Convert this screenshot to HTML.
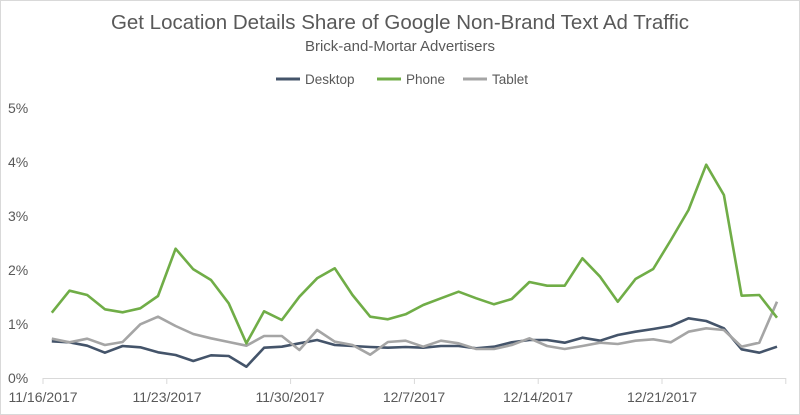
<!DOCTYPE html>
<html><head><meta charset="utf-8"><style>
html,body{margin:0;padding:0;background:#fff;}
svg{display:block;font-family:"Liberation Sans",sans-serif;}
</style></head><body>
<svg id="c" width="800" height="415" viewBox="0 0 800 415">
<rect x="0.5" y="0.5" width="799" height="414" fill="#fff" stroke="#d9d9d9"/>
<text x="400" y="29" text-anchor="middle" font-size="20.5" fill="#595959">Get Location Details Share of Google Non-Brand Text Ad Traffic</text>
<text x="400" y="51" text-anchor="middle" font-size="15" fill="#595959">Brick-and-Mortar Advertisers</text>
<g font-size="13.5" fill="#595959">
<line x1="276" y1="79" x2="300" y2="79" stroke="#44546a" stroke-width="3"/><text x="305" y="84">Desktop</text>
<line x1="377" y1="79" x2="401" y2="79" stroke="#70ad47" stroke-width="3"/><text x="406" y="84">Phone</text>
<line x1="463" y1="79" x2="487" y2="79" stroke="#a5a5a5" stroke-width="3"/><text x="492" y="84">Tablet</text>
</g>
<g font-size="14" fill="#595959" text-anchor="start">
<text x="8" y="113">5%</text><text x="8" y="167">4%</text><text x="8" y="221">3%</text>
<text x="8" y="275">2%</text><text x="8" y="329">1%</text><text x="8" y="383">0%</text>
</g>
<g id="ax" stroke="#d9d9d9" stroke-width="1"></g>
<g font-size="14" fill="#595959" text-anchor="middle">
<text x="43" y="402">11/16/2017</text><text x="167" y="402">11/23/2017</text><text x="290" y="402">11/30/2017</text>
<text x="414" y="402">12/7/2017</text><text x="538" y="402">12/14/2017</text><text x="662" y="402">12/21/2017</text>
</g>
<g id="s" fill="none" stroke-width="2.6" stroke-linejoin="round"></g>
</svg>
<script>
var ns="http://www.w3.org/2000/svg";
var ax=document.getElementById('ax');
function ln(x1,y1,x2,y2){var l=document.createElementNS(ns,'line');l.setAttribute('x1',x1);l.setAttribute('y1',y1);l.setAttribute('x2',x2);l.setAttribute('y2',y2);ax.appendChild(l);}
ln(43,378.5,786,378.5);
for(var i=0;i<7;i++){var x=43+i*123.8;ln(x,378,x,384);}
var g=[312.7,290.7,295,309.3,312.3,308.3,296,248.7,269.3,280,303.3,343.3,311.3,320,296.7,278.3,268.3,295,316.7,319.3,314.3];
var t=[338.7,342.3,338.7,345,342,324.3,316.7,326,334,338.3,342,345.7,336,336,350,330,341.7,345,354.7,342,340.7];
var d=[341.3,342.3,345.7,352.7,346,347.3,352.3,355,361,355.3,356,366.7,347.7,346.7,343.3,340,345,346,347,347.7,347];
var g2=[465,445,425,445,463,447,396,407,407,325,380,455,387,357,270,180,44,135,437,435,503];
var t2=[590,572,580,597,597,585,565,588,597,588,578,582,572,568,577,545,535,540,590,578,455];
var d2=[593,588,588,595,590,577,570,570,578,563,572,555,545,537,528,505,513,535,598,608,590];
function cv(a){return a.map(function(v){return 150+v/3;});}
g=g.concat(cv(g2));t=t.concat(cv(t2));d=d.concat(cv(d2));
var s=document.getElementById('s');
function pl(a,c){var p=document.createElementNS(ns,'polyline');p.setAttribute('points',a.map(function(y,i){return (43+17.686*(i+0.5)).toFixed(1)+','+y.toFixed(1);}).join(' '));p.setAttribute('stroke',c);s.appendChild(p);}
pl(d,'#44546a');pl(t,'#a5a5a5');pl(g,'#70ad47');
</script>
</body></html>
